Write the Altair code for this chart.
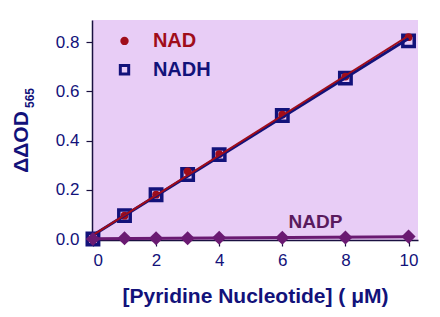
import altair as alt
import pandas as pd

conc = [0, 1, 2, 3, 4, 6, 8, 10]
nad = [0.0, 0.095, 0.18, 0.275, 0.345, 0.505, 0.66, 0.82]
nadh = [0.0, 0.095, 0.18, 0.262, 0.343, 0.502, 0.654, 0.805]
nadp = [0.0, 0.003, 0.003, 0.003, 0.005, 0.005, 0.006, 0.01]

NAVY = "#12127a"
RED = "#a00d1a"
PURPLE = "#6a1a72"
AXIS = "#1a1040"
FONT = "Liberation Sans"

df = pd.DataFrame({"conc": conc, "NAD": nad, "NADH": nadh, "NADP": nadp})

xs = alt.Scale(domain=[-0.03, 10.3], nice=False, zero=False)
ys = alt.Scale(domain=[-0.004, 0.89], nice=False, zero=False)

xax = alt.Axis(values=[0, 2, 4, 6, 8, 10], title="[Pyridine  Nucleotide] ( \u03bcM)",
               titleFontSize=21, titleFont=FONT, titleFontWeight="bold", titleColor=NAVY,
               titlePadding=17, labelPadding=6)
yax = alt.Axis(values=[0, 0.2, 0.4, 0.6, 0.8], format=".1f", title=None, labelPadding=7)

base = alt.Chart(df)

x_enc = alt.X("conc:Q", scale=xs, axis=xax)

sq = base.mark_point(shape="square", filled=False, stroke=NAVY, strokeWidth=3.5, size=130, opacity=1).encode(
    x=x_enc, y=alt.Y("NADH:Q", scale=ys, axis=yax))
circ = base.mark_circle(color=RED, size=60, opacity=1).encode(
    x=alt.X("conc:Q", scale=xs), y=alt.Y("NAD:Q", scale=ys))

reg_nadh = base.transform_regression("conc", "NADH", extent=[0, 10]).mark_line(
    color=NAVY, strokeWidth=3).encode(x=alt.X("conc:Q", scale=xs), y=alt.Y("NADH:Q", scale=ys))
reg_nad = base.transform_regression("conc", "NAD", extent=[0, 10]).mark_line(
    color=RED, strokeWidth=2).encode(x=alt.X("conc:Q", scale=xs), y=alt.Y("NAD:Q", scale=ys))
reg_nadp = base.transform_regression("conc", "NADP", extent=[0, 10]).mark_line(
    color=PURPLE, strokeWidth=3).encode(x=alt.X("conc:Q", scale=xs), y=alt.Y("NADP:Q", scale=ys))
dia = base.mark_point(shape="diamond", filled=True, color=PURPLE, size=200, opacity=1).encode(
    x=alt.X("conc:Q", scale=xs), y=alt.Y("NADP:Q", scale=ys))

# legend
leg_c = alt.Chart(pd.DataFrame({"lx": [1.0], "ly": [0.805]})).mark_circle(color=RED, size=70, opacity=1).encode(
    x=alt.X("lx:Q", scale=xs), y=alt.Y("ly:Q", scale=ys))
leg_s = alt.Chart(pd.DataFrame({"lx": [1.0], "ly": [0.688]})).mark_point(
    shape="square", filled=False, stroke=NAVY, strokeWidth=3, size=70, opacity=1).encode(
    x=alt.X("lx:Q", scale=xs), y=alt.Y("ly:Q", scale=ys))
leg_t1 = alt.Chart(pd.DataFrame({"lx": [1.9], "ly": [0.805], "t": ["NAD"]})).mark_text(
    align="left", baseline="middle", font=FONT, fontWeight="bold", fontSize=20, color=RED).encode(
    x=alt.X("lx:Q", scale=xs), y=alt.Y("ly:Q", scale=ys), text="t:N")
leg_t2 = alt.Chart(pd.DataFrame({"lx": [1.9], "ly": [0.688], "t": ["NADH"]})).mark_text(
    align="left", baseline="middle", font=FONT, fontWeight="bold", fontSize=20, color=NAVY).encode(
    x=alt.X("lx:Q", scale=xs), y=alt.Y("ly:Q", scale=ys), text="t:N")
nadp_t = alt.Chart(pd.DataFrame({"lx": [6.2], "ly": [0.07], "t": ["NADP"]})).mark_text(
    align="left", baseline="middle", font=FONT, fontWeight="bold", fontSize=19, color="#5a1a5e").encode(
    x=alt.X("lx:Q", scale=xs), y=alt.Y("ly:Q", scale=ys), text="t:N")

# y title with subscript
yt = alt.Chart(pd.DataFrame({"t": ["\u0394\u0394OD"]})).mark_text(
    angle=270, align="center", baseline="middle", font=FONT, fontWeight="bold", fontSize=21, color=NAVY).encode(
    x=alt.value(-70), y=alt.value(122), text="t:N")
ysub = alt.Chart(pd.DataFrame({"t": ["565"]})).mark_text(
    angle=270, align="center", baseline="middle", font=FONT, fontWeight="bold", fontSize=12, color=NAVY).encode(
    x=alt.value(-62), y=alt.value(78), text="t:N")

chart = alt.layer(sq, circ, reg_nadh, reg_nad, reg_nadp, dia, leg_c, leg_s, leg_t1, leg_t2, nadp_t, yt, ysub).properties(
    width=326, height=220,
    autosize=alt.AutoSizeParams(type="none"),
    padding={"left": 92, "top": 20, "right": 22, "bottom": 77},
    background="white",
).configure_view(fill="#e8cdf6", stroke=None).configure_axis(
    grid=False, domainColor=AXIS, domainWidth=1.5, tickColor=AXIS, tickSize=6, tickWidth=1.2,
    labelColor=NAVY, labelFont=FONT, labelFontSize=17,
)

chart.save("out.html", embed_options={"renderer": "svg", "actions": False})
